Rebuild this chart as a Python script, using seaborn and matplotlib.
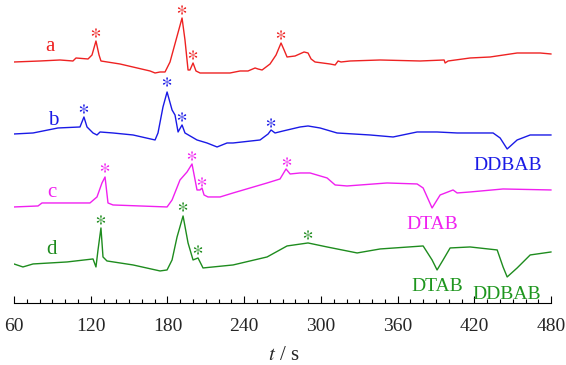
import numpy as np
import pandas as pd
import matplotlib
matplotlib.use('Agg')
import matplotlib.pyplot as plt
import seaborn as sns

# Traces: time (s) and signal relative to each trace's baseline
t_a = [60, 80.3, 96.0, 106.1, 108.5, 117.9, 121.0, 124.1, 126.5, 128.0, 142.9, 166.4, 170.3, 174.2,
       178.1, 182.0, 186.7, 191.4, 193.7, 196.1, 197.6, 200.0, 202.3, 205.5, 228.9, 236.8, 243.0,
       248.5, 250.8, 254.0, 260.2, 264.9, 268.8, 271.2, 273.5, 279.8, 286.8, 289.9, 292.3, 295.4,
       307.1, 311.1, 313.4, 315.7, 322.8, 346.3, 377.5, 396.3, 397.1, 399.4, 416.6, 432.3, 453.4,
       471.4, 480]
sig_a = [0, 1, 2, 1, 4, 3, 7, 21, 7, 1, -2, -9, -11, -10,
         -10, 0, 22, 44, 22, -8, -8, -1, -9, -11, -11, -9, -9,
         -6, -7, -8, -2, 7, 19, 12, 5, 6, 10, 9, 3, 0,
         -2, -3, 1, 0, 1, 2, 1, 2, -1, 1, 4, 5, 9,
         9, 8]

t_b = [60, 74.9, 82.7, 94.4, 111.6, 114.7, 117.1, 121.8, 124.9, 127.3, 137.4, 153.1, 170.3, 172.6,
       176.5, 179.7, 183.6, 185.9, 188.3, 191.4, 193.7, 203.1, 210.9, 218.8, 226.6, 231.3, 252.4,
       258.7, 261.0, 264.1, 270.4, 283.7, 289.9, 299.3, 312.6, 338.4, 356.4, 375.2, 390.8, 406.5,
       416.6, 434.6, 440.1, 445.6, 453.4, 463.6, 480]
sig_b = [0, 1, 3, 6, 7, 17, 7, 1, -1, 2, 1, -1, -6, 1,
         27, 42, 24, 19, 2, 9, 1, -6, -9, -13, -9, -9, -6,
         0, 4, 1, 3, 7, 8, 6, 1, -1, -3, 2, 2, 1,
         1, 1, -4, -15, -6, -1, -1]

t_c = [60, 78.8, 81.9, 119.4, 124.9, 128.8, 131.2, 133.5, 137.4, 179.7, 183.6, 189.8, 195.3, 199.2,
       203.1, 205.5, 207.0, 208.6, 211.7, 221.1, 231.3, 257.9, 268.0, 272.7, 275.9, 283.7, 291.5,
       304.8, 311.1, 320.4, 351.7, 375.2, 379.9, 386.9, 393.2, 403.3, 406.5, 416.6, 442.4, 480]
sig_c = [0, 1, 4, 4, 10, 24, 30, 4, 2, 0, 7, 27, 35, 43,
         17, 17, 19, 12, 10, 10, 14, 24, 28, 38, 33, 34, 34,
         29, 22, 21, 24, 23, 19, -1, 12, 17, 14, 15, 18, 17]

t_d = [60, 67.0, 74.9, 101.5, 121.8, 124.1, 125.7, 128.0, 129.6, 132.7, 153.1, 174.2, 179.7, 183.6,
       187.5, 192.2, 196.1, 200.0, 203.9, 207.8, 231.3, 257.9, 273.5, 289.9, 304.8, 328.3, 346.3,
       379.9, 386.9, 390.8, 395.5, 401.0, 416.6, 437.8, 442.4, 445.6, 453.4, 463.6, 480]
sig_d = [0, -3, 0, 2, 5, -3, 14, 36, 7, 3, -1, -7, -6, 4,
         27, 48, 21, 4, 6, -4, -1, 7, 18, 21, 17, 11, 15,
         18, 4, -6, 4, 16, 17, 14, -3, -13, -4, 9, 12]

traces = ['a', 'b', 'c', 'd']
offsets = [241, 169, 96, 39]
colors = ['#ee2222', '#1a1ae6', '#f020f0', '#1e8c1e']

# asterisk positions (time, height above baseline)
star_t = [[124.1, 191.4, 200.0, 268.8], [114.7, 179.7, 191.4, 261.0],
          [131.2, 199.2, 207.0, 273.5], [128.0, 192.2, 203.9, 289.9]]
star_h = [[29, 52, 7, 27], [25, 52, 17, 11], [39, 51, 25, 45], [44, 57, 14, 29]]

# trace letters and surfactant labels
letter_t = [88.2, 90.5, 89.7, 89.7]
letter_h = [15, 13, 14, 14]
notes = ['DDBAB', 'DTAB', 'DTAB', 'DDBAB']
note_color = ['#1a1ae6', '#f020f0', '#1e961e', '#1e961e']
note_t = [446.4, 386.9, 390.8, 445.2]
note_y = [137, 78, 16, 8]

sns.set_theme(style='white')
plt.rcParams['font.family'] = ['Liberation Serif', 'DejaVu Serif']
plt.rcParams['mathtext.fontset'] = 'stix'

rows = []
for name, off, tt, ss in zip(traces, offsets, [t_a, t_b, t_c, t_d], [sig_a, sig_b, sig_c, sig_d]):
    for t, s in zip(tt, ss):
        rows.append((name, t, off + s))
df = pd.DataFrame(rows, columns=['trace', 't', 'y'])

stars = pd.DataFrame([(name, t, off + h) for name, off, ts, hs in zip(traces, offsets, star_t, star_h)
                      for t, h in zip(ts, hs)], columns=['trace', 't', 'y'])

fig = plt.figure(figsize=(5.66, 3.65), dpi=100)
ax = fig.add_axes([0.0247, 0.170, 0.9536, 0.830])

pal = dict(zip(traces, colors))
sns.lineplot(data=df, x='t', y='y', hue='trace', palette=pal, estimator=None, sort=False,
             linewidth=1.0, legend=False, ax=ax)
sns.scatterplot(data=stars, x='t', y='y', hue='trace', palette=pal, marker='$*$', s=45,
                linewidth=0, legend=False, ax=ax)

for name, off, lt, lh, c in zip(traces, offsets, letter_t, letter_h, colors):
    ax.text(lt, off + lh, name, color=c, fontsize=15, ha='center', va='center')
for txt, c, nt, ny in zip(notes, note_color, note_t, note_y):
    ax.text(nt, ny, txt, color=c, fontsize=14, ha='center', va='center')

ax.set_xlim(60, 482)
ax.set_ylim(0, 303)
for side in ['top', 'right', 'left']:
    ax.spines[side].set_visible(False)
ax.spines['bottom'].set_bounds(60, 480)
ax.spines['bottom'].set_linewidth(0.8)
ax.spines['bottom'].set_color('black')
ax.set_yticks([])
ax.set_xticks(np.arange(60, 481, 60))
ax.set_xticks(np.arange(60, 481, 10), minor=True)
ax.tick_params(axis='x', which='major', direction='in', length=5, width=0.8, pad=11,
               labelsize=14, bottom=True, color='black')
ax.tick_params(axis='x', which='minor', direction='in', length=3, width=0.8, bottom=True, color='black')
ax.set_xlabel('$t$ / s', fontsize=15, labelpad=8)
ax.set_ylabel('')
ax.patch.set_alpha(0)

fig.savefig('out.png', dpi=100)
